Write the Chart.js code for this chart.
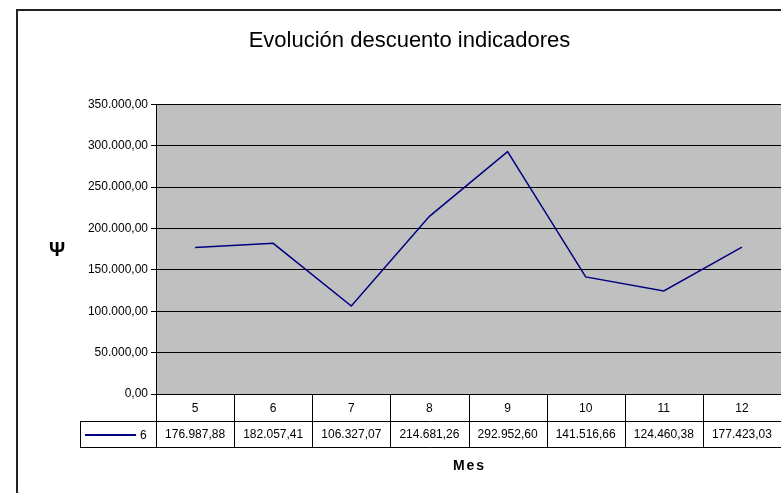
<!DOCTYPE html>
<html>
<head>
<meta charset="utf-8">
<script src="https://cdn.jsdelivr.net/npm/chart.js@4/dist/chart.umd.min.js"></script>
<style>
  html, body { margin: 0; padding: 0; background: #fff; overflow: hidden; }
  #wrap { width: 781px; height: 493px; }
</style>
</head>
<body>
<div id="wrap"><canvas id="chart"></canvas></div>
<script>
// data
const months = ["5", "6", "7", "8", "9", "10", "11", "12"];
const seriesName = "6";
const values = [176987.88, 182057.41, 106327.07, 214681.26, 292952.60, 141516.66, 124460.38, 177423.03];
const yTicks = [0, 50000, 100000, 150000, 200000, 250000, 300000, 350000];

const FONT = "'Liberation Sans', Arial, sans-serif";

// 350000 -> "350.000,00"
function fmt(v) {
  const parts = v.toFixed(2).split(".");
  const int = parts[0].replace(/\B(?=(\d{3})+(?!\d))/g, ".");
  return int + "," + parts[1];
}

// grey plot area + outer frame
const background = {
  id: "background",
  beforeDraw(chart) {
    const { ctx, chartArea: a } = chart;
    ctx.save();
    ctx.fillStyle = "#c0c0c0";
    ctx.fillRect(a.left, a.top, a.right - a.left, a.bottom - a.top);
    ctx.strokeStyle = "#222";
    ctx.lineWidth = 2;
    ctx.strokeRect(17, 10, 820, 520);
    ctx.restore();
  }
};

// data table under the plot, axis titles
const dataTable = {
  id: "dataTable",
  afterDraw(chart) {
    const { ctx, chartArea: a, scales } = chart;
    const x = scales.x;
    const top = a.bottom, mid = a.bottom + 27, bot = a.bottom + 53;
    const colW = (a.right - a.left) / months.length;
    ctx.save();
    ctx.strokeStyle = "#000";
    ctx.lineWidth = 1;
    ctx.beginPath();
    // vertical lines
    for (let i = 0; i <= months.length; i++) {
      const px = Math.round(a.left + i * colW) + 0.5;
      ctx.moveTo(px, top);
      ctx.lineTo(px, bot);
    }
    ctx.moveTo(80.5, mid);
    ctx.lineTo(80.5, bot);
    ctx.moveTo(80, Math.round(mid) + 0.5);
    ctx.lineTo(a.right, Math.round(mid) + 0.5);
    ctx.moveTo(80, Math.round(bot) + 0.5);
    ctx.lineTo(a.right, Math.round(bot) + 0.5);
    ctx.moveTo(a.left, Math.round(top) + 0.5);
    ctx.lineTo(a.right, Math.round(top) + 0.5);
    ctx.stroke();

    ctx.fillStyle = "#000";
    ctx.font = "12px " + FONT;
    ctx.textAlign = "center";
    ctx.textBaseline = "middle";
    months.forEach((m, i) => {
      const cx = x.getPixelForValue(i);
      ctx.fillText(m, cx, (top + mid) / 2 + 1);
      ctx.fillText(fmt(values[i]), cx, (mid + bot) / 2 + 1);
    });

    // legend key
    ctx.strokeStyle = "#000080";
    ctx.lineWidth = 2;
    ctx.beginPath();
    ctx.moveTo(85, (mid + bot) / 2 + 1);
    ctx.lineTo(136, (mid + bot) / 2 + 1);
    ctx.stroke();
    ctx.textAlign = "left";
    ctx.fillText(seriesName, 140, (mid + bot) / 2 + 2);

    // x axis title
    ctx.font = "bold 14px " + FONT;
    ctx.textAlign = "center";
    ctx.letterSpacing = "2px";
    ctx.fillText("Mes", (a.left + a.right) / 2 + 1, bot + 19);
    ctx.letterSpacing = "0px";

    // y axis title
    ctx.font = "bold 20px " + FONT;
    ctx.fillText("\u03A8", 57, (a.top + a.bottom) / 2 + 1);
    ctx.restore();
  }
};

new Chart(document.getElementById("chart"), {
  type: "line",
  data: {
    labels: months,
    datasets: [{
      label: seriesName,
      data: values,
      borderColor: "#000080",
      borderWidth: 1.5,
      pointRadius: 0,
      tension: 0,
      fill: false
    }]
  },
  options: {
    responsive: true,
    maintainAspectRatio: false,
    animation: false,
    layout: { padding: { left: 38, right: 0, top: 0, bottom: 99 } },
    plugins: {
      legend: { display: false },
      tooltip: { enabled: false },
      title: {
        display: true,
        text: "Evolución descuento indicadores",
        color: "#000",
        font: { family: FONT, size: 22, weight: "normal" },
        padding: { top: 28, bottom: 50 }
      }
    },
    scales: {
      x: {
        display: false,
        offset: true,
        grid: { display: false }
      },
      y: {
        min: 0,
        max: 350000,
        afterBuildTicks(scale) {
          scale.ticks = yTicks.map(v => ({ value: v }));
        },
        afterFit(scale) {
          scale.width = 118;
        },
        ticks: {
          color: "#000",
          font: { family: FONT, size: 12 },
          padding: 3,
          callback: v => fmt(v)
        },
        grid: {
          color: "#000",
          lineWidth: 1,
          tickLength: 5,
          drawTicks: true
        },
        border: { color: "#000", width: 1 }
      }
    }
  },
  plugins: [background, dataTable]
});
</script>
</body>
</html>
